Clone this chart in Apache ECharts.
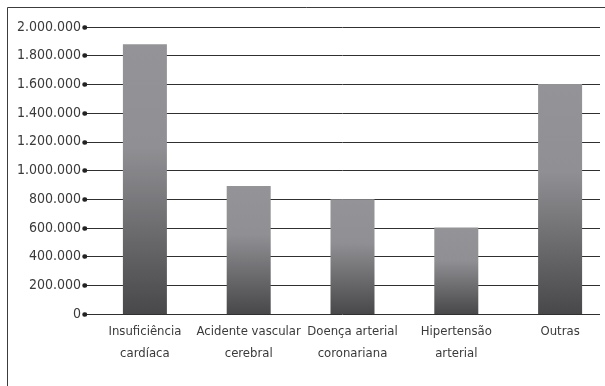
<!DOCTYPE html>
<html>
<head>
<meta charset="utf-8">
<script src="https://cdn.jsdelivr.net/npm/echarts@6/dist/echarts.min.js"></script>
<style>
html,body{margin:0;padding:0;background:#fff;}
#chart{width:605px;height:386px;}
</style>
</head>
<body>
<div id="chart"></div>
<script>
// Categories and values (number of cases)
const categories = ['Insuficiência\ncardíaca', 'Acidente vascular\ncerebral', 'Doença arterial\ncoronariana', 'Hipertensão\narterial', 'Outras'];
const values = [1880000, 892000, 800000, 603000, 1603000];
const yMin = 0, yMax = 2000000, yStep = 200000;

const FONT = "'Liberation Sans Narrow', 'DejaVu Sans Condensed', sans-serif";

function fmt(v) {
  return String(v).replace(/\B(?=(\d{3})+(?!\d))/g, '.');
}

const chart = echarts.init(document.getElementById('chart'), null, {renderer: 'canvas'});
chart.setOption({
  animation: false,
  backgroundColor: '#fff',
  graphic: [{
    type: 'polyline',
    shape: {points: [[7.5, 400], [7.5, 7.5], [620, 7.5]]},
    style: {stroke: '#3c3c3c', lineWidth: 1, fill: null},
    silent: true
  }],
  grid: [
    {left: 85, right: 5, top: 27, bottom: 72, outerBoundsMode: 'none', containLabel: false},
    {left: 93, width: 519, top: 27, bottom: 72, outerBoundsMode: 'none', containLabel: false}
  ],
  xAxis: [
    {gridIndex: 0, type: 'category', data: categories, show: false},
    {
      gridIndex: 1, type: 'category', data: categories,
      axisLine: {show: false}, axisTick: {show: false},
      axisLabel: {color: '#3a3a3a', fontFamily: FONT, fontSize: 13, lineHeight: 22, margin: 7, interval: 0}
    }
  ],
  yAxis: [
    {
      gridIndex: 0, type: 'value', min: yMin, max: yMax, interval: yStep,
      axisLine: {show: false},
      axisTick: {show: true, length: 0.5, lineStyle: {color: '#222', width: 4.5, cap: 'round'}},
      axisLabel: {color: '#3a3a3a', fontFamily: FONT, fontSize: 14, margin: 4, formatter: fmt},
      splitLine: {show: true, lineStyle: {color: '#303030', width: 1}}
    },
    {gridIndex: 1, type: 'value', min: yMin, max: yMax, interval: yStep, show: false, splitLine: {show: false}}
  ],
  series: [{
    type: 'bar',
    xAxisIndex: 1, yAxisIndex: 1,
    data: values,
    barWidth: 44,
    itemStyle: {
      color: new echarts.graphic.LinearGradient(0, 0, 0, 1, [
        {offset: 0, color: '#949498'},
        {offset: 0.38, color: '#909094'},
        {offset: 1, color: '#48484a'}
      ])
    },
    z: 3
  }]
});
</script>
</body>
</html>
